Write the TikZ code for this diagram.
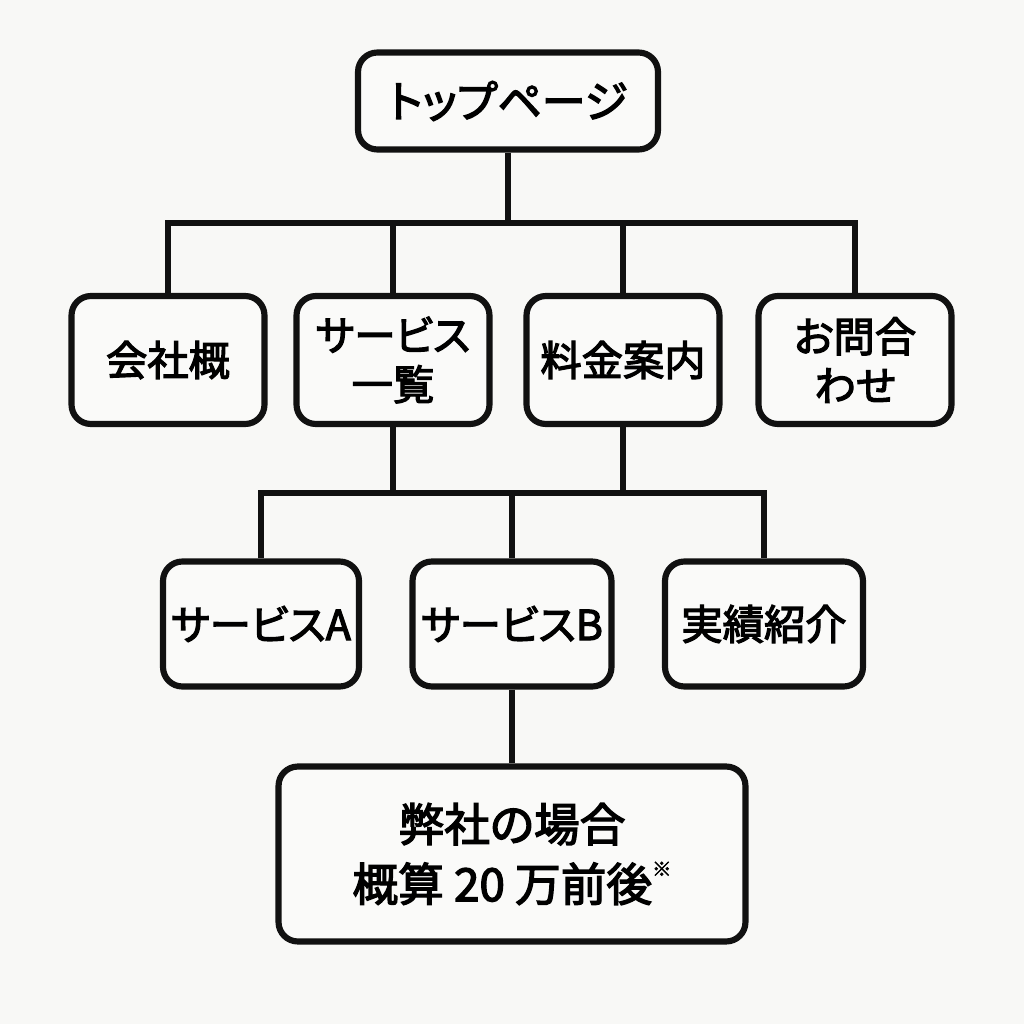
\documentclass[tikz,border=0pt]{standalone}
\usepackage{fontspec}
\setmainfont{Noto Sans CJK JP}[RawFeature=+palt]
\newfontfamily\jpfont{Noto Sans CJK JP}[RawFeature=+palt, FakeBold=3]
\usepackage{xcolor}
\usepackage{tikz}
\usetikzlibrary{positioning, calc}
\definecolor{paper}{HTML}{F8F8F6}
\definecolor{boxfill}{HTML}{FAFAF9}
\definecolor{ink}{HTML}{111111}
\tikzset{
  pagebox/.style={
    rectangle, rounded corners=11pt,
    minimum width=3.86cm, minimum height=2.56cm,
    text centered, align=center, draw=ink, line width=3.5pt,
    fill=boxfill, font=\jpfont\fontsize{23.5pt}{28pt}\selectfont, inner sep=0pt,
  },
  link/.style={line width=3pt, color=ink},
}

\begin{document}
\begin{tikzpicture}[x=0.02cm, y=-0.02cm]

  \fill[paper] (0,0) rectangle (1024,1024);
  \useasboundingbox (0,0) rectangle (1024,1024);

  \node[pagebox, minimum width=6.0cm, minimum height=1.94cm, font=\jpfont\fontsize{25pt}{30pt}\selectfont] (top) at (508,101) {トップページ};

  \node[pagebox] (about) at (168,360) {会社概};
  \node[pagebox] (svc) at (393,360) {サービス\\一覧};
  \node[pagebox] (price) at (623,360) {料金案内};
  \node[pagebox] (contact) at (855,360) {お問合\\わせ};

  \node[pagebox, minimum width=3.92cm, minimum height=2.5cm] (svcA) at (261,624) {サービスA};
  \node[pagebox, minimum width=3.98cm, minimum height=2.5cm] (svcB) at (512,624) {サービスB};
  \node[pagebox, minimum width=3.96cm, minimum height=2.5cm] (works) at (764,624) {実績紹介};

  \node[pagebox, minimum width=9.34cm, minimum height=3.5cm, font=\jpfont\fontsize{26pt}{34pt}\selectfont] (est) at (512,854)
    {弊社の場合\\概算 20 万前後\raisebox{0.55em}{\fontsize{11pt}{11pt}\selectfont ※}};

  \coordinate (j1) at (508,223);
  \coordinate (j2) at (512,493);

  \draw[link] (top.south) -- (j1);
  \draw[link] (about.north) |- (j1) -| (contact.north);
  \draw[link] (j1 -| svc.north) -- (svc.north);
  \draw[link] (j1 -| price.north) -- (price.north);

  \draw[link] (svc.south) |- (j2);
  \draw[link] (price.south) |- (j2);
  \draw[link] (svcA.north) |- (j2) -| (works.north);
  \draw[link] (j2) -- (svcB.north);

  \draw[link] (svcB.south) -- (est.north);

\end{tikzpicture}
\end{document}
